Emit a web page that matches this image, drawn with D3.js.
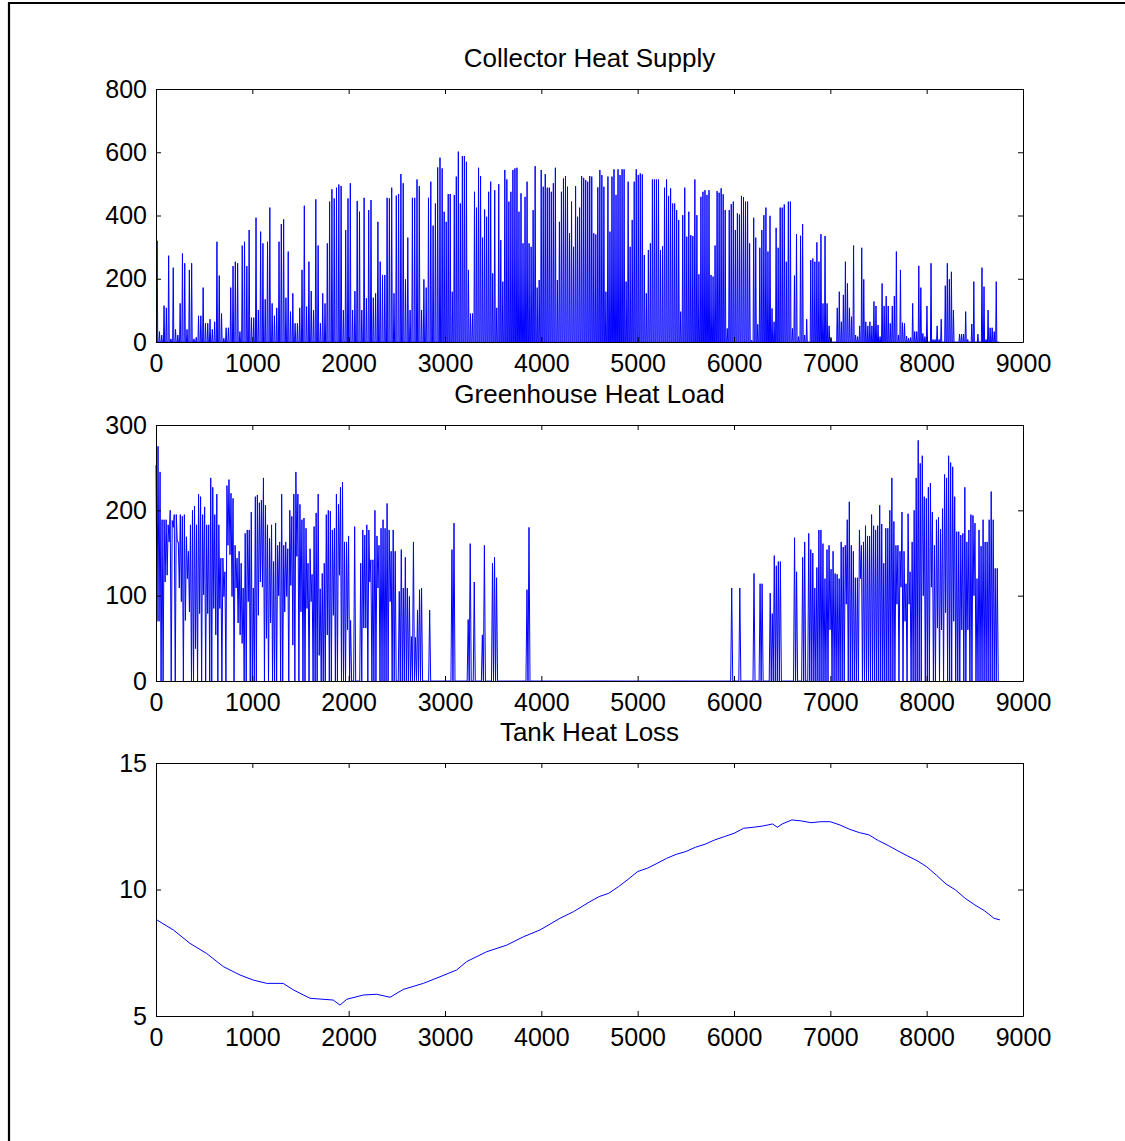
<!DOCTYPE html>
<html>
<head>
<meta charset="utf-8">
<script src="https://cdn.jsdelivr.net/npm/d3@7"></script>
<style>
  html, body { margin: 0; padding: 0; background: #fff; }
  svg { display: block; }
  text { font-family: "Liberation Sans", Arial, Helvetica, sans-serif; fill: #000; }
</style>
</head>
<body>
<svg id="fig" width="1125" height="1141"></svg>
<script>
// ---------------- DATA ----------------
const titles = ["Collector Heat Supply", "Greenhouse Heat Load", "Tank Heat Loss"];
const xTicks = [0, 1000, 2000, 3000, 4000, 5000, 6000, 7000, 8000, 9000];
const collectorTicks = [0, 200, 400, 600, 800];
const loadTicks = [0, 100, 200, 300];
const tankTicks = [5, 10, 15];

// Collector heat supply: daily peak values, in three seasonal blocks (hour spans below)
const collectorSpanHours = [0, 2960, 5940, 8754];
const collectorJanApr = [
  320,33,22,115,108,273,10,235,40,22,
  122,280,249,40,228,249,10,15,83,83,
  172,59,59,72,40,64,317,210,90,12,
  45,45,172,240,254,249,33,305,317,240,
  354,77,77,393,101,349,312,135,317,425,
  122,83,108,317,373,388,140,286,96,154,
  59,59,108,228,431,112,254,161,101,451,
  305,59,154,122,312,444,483,454,488,498,
  493,101,354,454,502,101,161,446,412,101,
  456,138,417,449,140,154,380,254,212,212,
  456,454,488,154,463,468,531,502,198,330,
  101,456,456,514,493,101,198,172,456,507,
  368,438,552,583
];
const collectorMayAug = [
  549,412,380,468,468,159,465,523,602,438,
  588,588,570,228,90,90,475,425,551,525,
  330,419,396,475,507,217,480,108,499,322,
  191,544,514,444,475,544,549,551,412,470,
  312,459,507,312,301,417,556,172,196,544,
  491,531,488,488,475,502,551,196,380,475,
  517,525,491,344,444,301,493,396,425,525,
  519,512,507,525,523,344,340,489,544,528,
  491,159,523,349,523,546,465,546,528,546,
  546,191,507,301,386,507,546,528,533,530,
  275,154,291,312,514,514,514,514,291,303,
  488,514,462,486,438,438,417,386,96,401,
  488,333,412,338,335,514,401,214,459,475,
  480,465,480,212,207,305,477,472,486,467,
  417,43
];
const collectorSepDec = [
  417,436,444,354,407,403,462,458,444,444,
  312,6,393,330,56,298,354,401,425,286,
  399,106,64,361,298,425,425,435,254,444,
  444,43,210,341,17,336,373,22,72,0,259,
  264,254,315,254,341,122,335,122,51,12,
  0,0,108,159,64,149,254,185,108,80,305,22,
  17,51,298,198,64,51,64,51,128,114,
  54,17,185,114,145,114,59,114,145,286,
  22,228,61,59,19,12,14,122,33,33,
  241,172,27,17,114,0,249,8,8,51,
  8,72,0,178,249,198,222,101,0,0,25,25,
  25,96,8,0,57,191,0,25,0,235,175,8,
  101,45,45,33,191,0
];

// Greenhouse heat load: daily night peak and daytime minimum
const loadPeak = [
  253,275,245,189,189,189,183,200,188,195,
  195,163,195,193,195,169,152,183,200,205,
  183,219,216,195,204,183,183,238,227,195,
  219,183,144,144,128,229,236,220,214,159,
  144,152,138,109,173,177,177,198,109,216,
  218,209,212,238,206,183,167,183,140,185,
  159,163,219,159,163,155,200,193,219,245,
  219,207,189,191,179,138,155,125,181,197,
  219,108,126,138,195,200,199,177,179,219,
  207,227,233,163,163,170,71,0,181,0,
  0,138,177,171,183,177,142,142,200,170,
  159,179,189,179,208,177,152,177,152,0,
  105,154,109,145,109,99,52,163,51,83,
  107,109,0,0,0,83,
  0,0,0,
  0,0,0,0,0,0,0,154,185,0,
  0,0,0,0,0,72,161,0,116,0,
  0,0,54,159,0,0,0,138,145,121,
  0,0,0,0,0,0,0,0,0,0,
  0,0,0,0,107,180,0,0,0,0,
  0,0,0,0,0,0,0,0,0,0,
  0,0,0,0,0,0,0,0,0,0,
  0,0,0,0,0,0,0,0,0,0,
  0,0,0,0,0,0,0,0,0,0,
  0,0,0,0,0,0,0,0,0,0,
  0,0,0,0,0,0,0,0,0,0,
  0,0,0,0,0,0,0,0,0,0,
  0,0,0,0,0,0,0,0,0,0,
  0,0,0,0,0,0,0,0,0,0,
  0,0,0,0,0,109,0,0,0,109,
  0,0,0,0,0,0,126,0,0,114,
  114,0,0,0,103,79,147,135,140,140,
  0,0,0,0,0,0,168,128,0,0,
  145,163,0,
  173,154,150,109,133,177,177,161,120,
  154,159,131,152,126,125,120,163,157,
  159,189,210,159,152,121,121,177,159,
  163,182,170,170,195,182,177,182,206,184,
  138,179,179,200,238,187,159,159,152,198,
  152,114,196,128,163,200,238,282,255,264,
  216,214,227,232,198,159,189,192,178,202,
  242,238,264,256,251,216,175,175,171,173,
  227,163,177,195,194,185,120,177,158,189,
  163,163,189,222,189,132,132
];
const loadTrough = [
  70,70,0,0,116,124,163,0,180,0,
  163,109,93,0,71,120,81,0,0,38,
  0,79,0,101,0,79,0,0,85,54,
  0,85,0,99,0,159,148,99,0,109,
  68,54,44,0,0,93,0,0,0,0,
  77,116,110,0,50,0,68,0,0,0,
  100,0,0,81,99,0,112,42,0,146,
  0,81,0,0,85,0,93,0,0,0,
  30,0,0,0,54,0,0,77,0,0,
  124,0,0,0,60,0,0,0,0,0,
  0,0,62,62,0,116,0,0,0,109,
  0,0,0,0,0,93,0,0,0,0,
  0,0,0,0,0,0,0,0,0,0,
  0,0,0,0,0,0,
  0,0,0,
  0,0,0,0,0,0,0,0,0,0,
  0,0,0,0,0,0,0,0,0,0,
  0,0,0,0,0,0,0,0,0,0,
  0,0,0,0,0,0,0,0,0,0,
  0,0,0,0,0,0,0,0,0,0,
  0,0,0,0,0,0,0,0,0,0,
  0,0,0,0,0,0,0,0,0,0,
  0,0,0,0,0,0,0,0,0,0,
  0,0,0,0,0,0,0,0,0,0,
  0,0,0,0,0,0,0,0,0,0,
  0,0,0,0,0,0,0,0,0,0,
  0,0,0,0,0,0,0,0,0,0,
  0,0,0,0,0,0,0,0,0,0,
  0,0,0,0,0,0,0,0,0,0,
  0,0,0,0,0,0,0,0,0,0,
  0,0,0,0,0,0,0,0,0,0,
  0,0,0,0,0,0,0,0,0,0,
  0,0,0,
  0,0,0,0,0,0,0,
  0,0,0,0,0,0,0,0,0,0,
  0,0,0,60,0,0,0,0,0,0,
  0,90,0,0,0,0,0,0,120,0,
  0,0,0,0,0,0,0,0,0,0,
  0,0,0,0,0,0,90,0,110,0,
  70,0,90,0,0,0,0,0,0,100,
  0,0,0,110,0,0,62,0,60,0,
  80,0,0,0,70,0,0,0,60,0,
  0,60,0,0,100,0,0
];
const loadEndHour = 8754;

// Tank heat loss (hour of year, value)
const tankHours = [0,180,353,526,700,872,1010,1150,1320,1427,1600,1840,1910,1980,2153,2290,2430,2567,2775,2948,3121,3225,3432,3640,3813,3986,4193,4332,4505,
  4600,4700,4800,4900,5000,5100,5200,5300,5400,5500,5600,5700,5800,5900,6000,6100,6200,6300,6400,6450,6500,6600,6700,6800,6900,7000,
  7100,7200,7300,7400,7500,7600,7700,7800,7900,8000,8100,8200,8300,8400,8500,8600,8700,8760];
const tankLoss = [8.82,8.40,7.87,7.47,6.95,6.62,6.42,6.29,6.29,6.03,5.70,5.63,5.43,5.66,5.83,5.86,5.74,6.05,6.29,6.55,6.82,7.15,7.54,7.80,8.13,8.40,8.86,9.12,9.52,
  9.72,9.85,10.11,10.40,10.71,10.84,11.03,11.23,11.39,11.50,11.67,11.79,11.96,12.09,12.22,12.42,12.46,12.51,12.59,12.46,12.59,12.75,12.71,12.64,12.68,12.68,
  12.55,12.38,12.25,12.16,11.93,11.74,11.53,11.33,11.14,10.90,10.57,10.22,9.98,9.65,9.39,9.16,8.86,8.80];

// ---------------- LAYOUT ----------------
const svg = d3.select("#fig");
const left = 156, right = 1023;
const panelBoxes = [
  {top: 89, bottom: 342, domain: [0, 800], ticks: collectorTicks},
  {top: 425, bottom: 681, domain: [0, 300], ticks: loadTicks},
  {top: 763, bottom: 1016, domain: [5, 15], ticks: tankTicks}
];
const x = d3.scaleLinear().domain([0, 9000]).range([left, right]);
const BLUE = "#0000ff";
const FS = "25px";

// figure frame (left and top edges visible)
svg.append("line").attr("x1", 9).attr("x2", 9).attr("y1", 2).attr("y2", 1141)
  .attr("stroke", "#000").attr("stroke-width", 2.2);
svg.append("line").attr("x1", 8).attr("x2", 1125).attr("y1", 3).attr("y2", 3)
  .attr("stroke", "#000").attr("stroke-width", 2.2);

// series point builders
function collectorPoints() {
  const segs = [collectorJanApr, collectorMayAug, collectorSepDec];
  const pts = [];
  segs.forEach((seg, k) => {
    const a = collectorSpanHours[k], b = collectorSpanHours[k + 1];
    const step = (b - a) / seg.length;
    seg.forEach((p, i) => {
      const h = a + (i + 0.5) * step;
      pts.push([h - 6, 0], [h, p], [h + 6, 0]);
    });
  });
  return pts;
}
function loadPoints() {
  const n = loadPeak.length;
  const step = loadEndHour / n;
  const pts = [];
  for (let i = 0; i < n; i++) {
    pts.push([i * step, loadPeak[i]]);
    pts.push([i * step + step * 0.5, loadTrough[i] || 0]);
  }
  return pts;
}
function tankPoints() { return tankHours.map((h, i) => [h, tankLoss[i]]); }

const seriesPts = [collectorPoints(), loadPoints(), tankPoints()];

panelBoxes.forEach((p, k) => {
  const y = d3.scaleLinear().domain(p.domain).range([p.bottom, p.top]);
  const g = svg.append("g");

  // data line
  const line = d3.line().x(d => x(d[0])).y(d => y(d[1]));
  g.append("path").datum(seriesPts[k])
    .attr("d", line).attr("fill", "none").attr("stroke", BLUE)
    .attr("stroke-width", 1).attr("stroke-linejoin", "miter");

  // axes (ticks inward on all four sides)
  const bottomAx = d3.axisBottom(x).tickValues(xTicks).tickSize(-5).tickSizeOuter(0).tickPadding(12).tickFormat(d3.format("d"));
  const topAx = d3.axisTop(x).tickValues(xTicks).tickSize(-5).tickSizeOuter(0).tickFormat("");
  const leftAx = d3.axisLeft(y).tickValues(p.ticks).tickSize(-5).tickSizeOuter(0).tickPadding(9).tickFormat(d3.format("d"));
  const rightAx = d3.axisRight(y).tickValues(p.ticks).tickSize(-5).tickSizeOuter(0).tickFormat("");

  const gb = g.append("g").attr("transform", `translate(0,${p.bottom})`).call(bottomAx);
  const gt = g.append("g").attr("transform", `translate(0,${p.top})`).call(topAx);
  const gl = g.append("g").attr("transform", `translate(${left},0)`).call(leftAx);
  const gr = g.append("g").attr("transform", `translate(${right},0)`).call(rightAx);
  [gb, gt, gl, gr].forEach(a => {
    a.selectAll("path.domain").attr("stroke", "#000").attr("stroke-width", 1);
    a.selectAll(".tick line").attr("stroke", "#000").attr("stroke-width", 1);
    a.selectAll("text").style("font-size", FS).style("font-family", "'Liberation Sans', Arial, sans-serif").attr("fill", "#000");
  });

  // title
  svg.append("text").attr("x", (left + right) / 2).attr("y", p.top - 22)
    .attr("text-anchor", "middle").style("font-size", "26px").text(titles[k]);
});
</script>
</body>
</html>
